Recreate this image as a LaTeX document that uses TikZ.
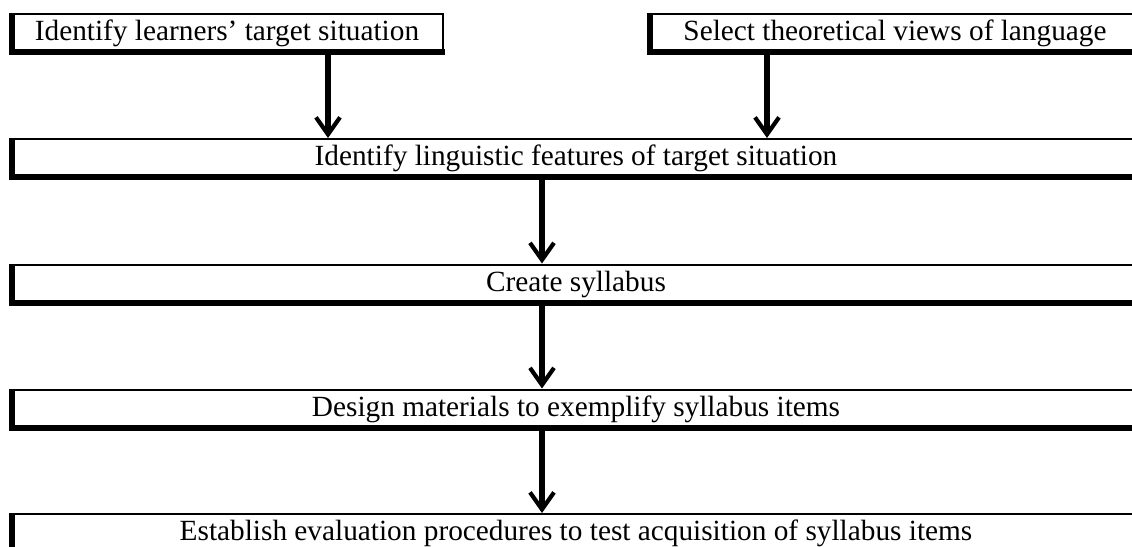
\documentclass[tikz,border=0pt]{standalone}
\usepackage{fontspec}
\setmainfont{Liberation Serif}
\usetikzlibrary{arrows.meta}
\tikzset{
  stepbox/.style={draw, line width=2pt, inner sep=0pt, minimum height=37pt,
    text height=20pt, text depth=4pt, font=\fontsize{29.3}{35}\selectfont, fill=white},
  heavy/.style={line width=6pt, line join=miter},
  flow/.style={line width=5.5pt, -{Straight Barb[length=17pt,width=24pt,line width=4.2pt]}},
}
\begin{document}
\begin{tikzpicture}[x=1pt,y=-1pt]
\path[use as bounding box] (0,0) rectangle (1132,546);
\clip (0,0) rectangle (1132,546);
% boxes
\node[stepbox, minimum width=432pt] (b1) at (227,32.5) {Identify learners’ target situation};
\node[stepbox, minimum width=492pt] (bs) at (895,32.5) {Select theoretical views of language};
\node[stepbox, minimum width=1130pt] (b2) at (576,157.5) {Identify linguistic features of target situation};
\node[stepbox, minimum width=1130pt] (b3) at (576,283) {Create syllabus};
\node[stepbox, minimum width=1130pt] (b4) at (576,408) {Design materials to exemplify syllabus items};
\node[stepbox, minimum width=1130pt] (b5) at (576,532.5) {Establish evaluation procedures to test acquisition of syllabus items};
% heavy left and bottom sides
\foreach \b in {b1,bs,b2,b3,b4,b5}
  \draw[heavy] ([xshift=2pt]\b.north west) -- ([xshift=2pt]\b.south west) -- ([xshift=1pt]\b.south east);
% connectors
\draw[flow] ([xshift=101pt]b1.south) -- ([xshift=-248pt]b2.north);
\draw[flow] ([xshift=-128pt]bs.south) -- ([xshift=191pt]b2.north);
\draw[flow] ([xshift=-34pt]b2.south) -- ([xshift=-34pt]b3.north);
\draw[flow] ([xshift=-34pt]b3.south) -- ([xshift=-34pt]b4.north);
\draw[flow] ([xshift=-34pt]b4.south) -- ([xshift=-34pt]b5.north);
\end{tikzpicture}
\end{document}
